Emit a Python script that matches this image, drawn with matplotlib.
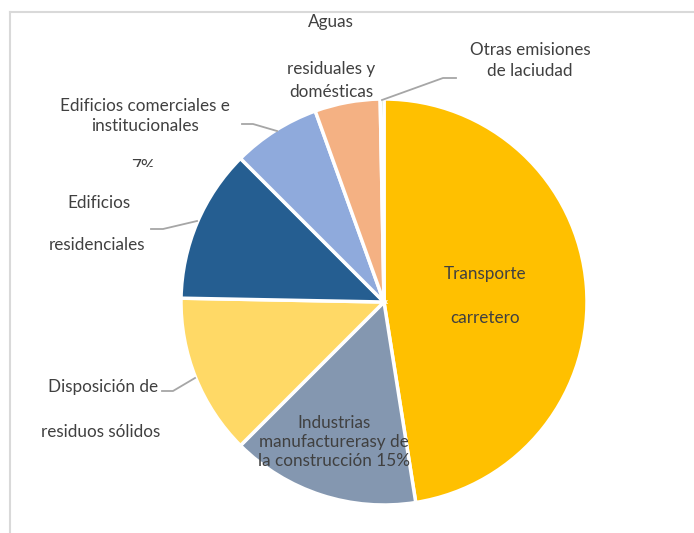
import matplotlib
matplotlib.use('Agg')
import matplotlib.pyplot as plt
from matplotlib.lines import Line2D
from matplotlib.patches import Rectangle

plt.rcParams['font.family'] = ['Lato', 'DejaVu Sans']

W, H = 694, 533

sectores = ['Transporte carretero', 'Industrias manufactureras y de la construcción',
            'Disposición de residuos sólidos', 'Edificios residenciales',
            'Edificios comerciales e institucionales', 'Aguas residuales y domésticas',
            'Otras emisiones de la ciudad']
porcentajes = [47.5, 15, 12.8, 12.2, 7, 5.2, 0.3]
colores = ['#FFC000', '#8497B0', '#FFD966', '#255E91', '#8FAADC', '#F4B183', '#A9D18E']

txt_color = '#404040'
fs = 12.3


def px(x, y):
    return x / W, 1 - y / H


fig = plt.figure(figsize=(W / 100, H / 100), dpi=100)

# pie centred at about (384, 302) px, radius ~203 px
cx, cy, r = 384, 302, 203
ax = fig.add_axes([(cx - r) / W, (H - cy - r) / H, 2 * r / W, 2 * r / H])
ax.pie(porcentajes, colors=colores, startangle=90, counterclock=False,
       wedgeprops=dict(edgecolor='white', linewidth=2.5))
ax.set_xlim(-1, 1)
ax.set_ylim(-1, 1)
ax.set_aspect('equal')
ax.axis('off')

# chart frame (top and left edges only visible)
fig.add_artist(Line2D([10 / W, 1], [1 - 12 / H] * 2, color='#D9D9D9', lw=1.5))
fig.add_artist(Line2D([10 / W] * 2, [0, 1 - 12 / H], color='#D9D9D9', lw=1.5))


def label(x, y, s, **kw):
    fx, fy = px(x, y)
    return fig.text(fx, fy, s, ha='center', va='center', color=txt_color,
                    fontsize=fs, **kw)


def leader(pts):
    xs = [p[0] / W for p in pts]
    ys = [1 - p[1] / H for p in pts]
    fig.add_artist(Line2D(xs, ys, color='#A6A6A6', lw=1.3))


# outside labels
label(331, 22, 'Aguas')
label(331, 69, 'residuales y')
label(331, 92, 'domésticas')

label(530, 50, 'Otras emisiones')
label(530, 71, 'de laciudad')
leader([(382, 100), (443, 78), (456, 78)])

label(145, 106, 'Edificios comerciales e')
label(145, 126, 'institucionales')
leader([(242, 124), (253, 124), (277, 131)])

t7 = fig.text(*px(143, 159), '7%', ha='center', va='top', color=txt_color, fontsize=fs)
clip = Rectangle(px(100, 167), 100 / W, 20 / H, transform=fig.transFigure,
                 facecolor='none', edgecolor='none')
fig.add_artist(clip)
t7.set_clip_path(clip)

label(99, 203, 'Edificios')
label(97, 245, 'residenciales')
leader([(151, 229), (163, 229), (197, 221)])

label(103, 387, 'Disposición de')
label(101, 432, 'residuos sólidos')
leader([(162, 391), (173, 391), (195, 378)])

# inside labels
label(485, 274, 'Transporte')
label(485, 318, 'carretero')

label(334, 423, 'Industrias')
label(334, 442, 'manufacturerasy de')
label(334, 461, 'la construcción 15%')

fig.savefig('out.png', dpi=100, facecolor='white')
